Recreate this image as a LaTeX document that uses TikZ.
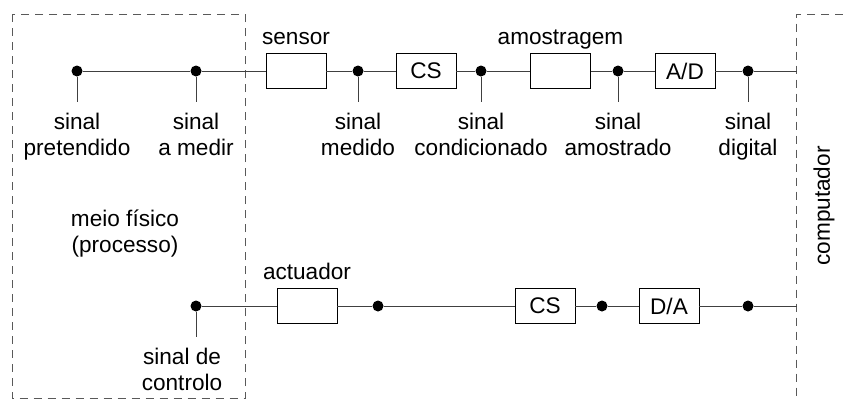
\documentclass[tikz,border=0pt]{standalone}
\usepackage{fontspec}
\setmainfont{Liberation Sans}
\usetikzlibrary{positioning}
\usetikzlibrary{calc}
\tikzstyle{blk} = [rectangle, draw=black, line width=0.9pt, minimum width=60pt,
                   minimum height=35pt, inner sep=0pt]
\tikzstyle{dot} = [circle, fill=black, inner sep=0pt, minimum size=11pt]
\tikzstyle{tag} = [align=center, inner xsep=0pt, inner ysep=11pt]
\tikzstyle{blklbl} = [inner sep=0pt, text depth=0pt]
\tikzstyle{wire} = [line width=0.9pt, draw=black!75]
\tikzstyle{zone} = [dash pattern=on 8pt off 6pt, draw=black!65, line width=0.9pt]

\begin{document}
\begin{tikzpicture}[x=1pt, y=-1pt, font=\fontsize{22.6}{26}\selectfont]
    \useasboundingbox (0,0) rectangle (843,400);
    % meio fisico e computador
    \draw[zone] (12,14) rectangle (245,398.5);
    \draw[zone] (843,14) -- (796.5,14) -- (796.5,400);
    \node[align=center, anchor=north, inner sep=0pt] (meio) at (125,210) {meio físico\\(processo)};
    \node[rotate=90, inner sep=0pt] (comp) at (824,206) {computador};
    % cadeia de medida
    \node[dot] (pret) at (77,71) {};
    \node[dot] (medir) at (196,71) {};
    \node[blk] (sensor) at (296,71) {};
    \node[dot] (medido) at (358,71) {};
    \node[blk] (csin) at (426,71) {CS};
    \node[dot] (cond) at (481,71) {};
    \node[blk] (amost) at (560.5,71) {};
    \node[dot] (amostrado) at (618,71) {};
    \node[blk] (ad) at (685,71) {A/D};
    \node[dot] (digital) at (748,71) {};
    \coordinate (compin) at (796.5,71);
    \draw[wire] (pret) -- (medir) -- (sensor) -- (medido) -- (csin) -- (cond) -- (amost)
                -- (amostrado) -- (ad) -- (digital) -- (compin);
    \node[blklbl, above=8pt of sensor] (lsensor) {sensor};
    \node[blklbl, above=8pt of amost] (lamost) {amostragem};
    \node[tag, below=25pt of pret] (lpret) {sinal\\pretendido} edge[wire] (pret);
    \node[tag, below=25pt of medir] (lmedir) {sinal\\a medir} edge[wire] (medir);
    \node[tag, below=25pt of medido] (lmedido) {sinal\\medido} edge[wire] (medido);
    \node[tag, below=25pt of cond] (lcond) {sinal\\condicionado} edge[wire] (cond);
    \node[tag, below=25pt of amostrado] (lamostrado) {sinal\\amostrado} edge[wire] (amostrado);
    \node[tag, below=25pt of digital] (ldigital) {sinal\\digital} edge[wire] (digital);
    % cadeia de actuacao
    \node[dot] (ctl) at (196,306) {};
    \node[blk] (act) at (307,306) {};
    \node[dot] (actin) at (378,306) {};
    \node[blk] (csout) at (545,306) {CS};
    \node[dot] (csdot) at (602,306) {};
    \node[blk] (da) at (669,306) {D/A};
    \node[dot] (daout) at (748,306) {};
    \coordinate (compout) at (796.5,306);
    \draw[wire] (ctl) -- (act) -- (actin) -- (csout) -- (csdot) -- (da) -- (daout) -- (compout);
    \node[blklbl, above=8pt of act] (lact) {actuador};
    \node[tag, below=25pt of ctl, xshift=-14pt] (lctl) {sinal de\\controlo};
    \draw[wire] (ctl) -- (ctl |- lctl.north);
\end{tikzpicture}
\end{document}
